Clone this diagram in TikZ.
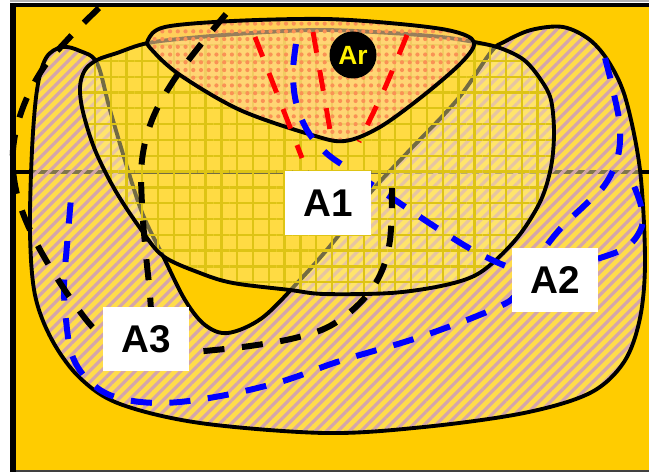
\documentclass[tikz,border=0pt]{standalone}
\usepackage{fontspec}
\setmainfont{Liberation Sans}
\usetikzlibrary{patterns.meta}

\definecolor{gold}{RGB}{255,204,0}
\definecolor{hatchbase}{RGB}{255,236,150}
\definecolor{hatchline}{RGB}{212,165,172}
\definecolor{gridbase}{RGB}{255,238,150}
\definecolor{gridline}{RGB}{222,196,20}
\definecolor{dotbase}{RGB}{255,210,150}
\definecolor{dotmark}{RGB}{250,145,85}

\begin{document}
\begin{tikzpicture}[
  x=0.02cm, y=-0.02cm,
  outline/.style={draw=black,line width=2.2pt,line join=round},
  hatchzone/.style={outline,preaction={fill=hatchbase,fill opacity=.5},
    pattern={Lines[angle=45,distance=4.6pt,line width=1.8pt]},pattern color=hatchline},
  gridzone/.style={outline,preaction={fill=gridbase,fill opacity=.45},
    pattern={Hatch[distance=9pt,line width=1.3pt]},pattern color=gridline},
  dotzone/.style={outline,preaction={fill=dotbase,fill opacity=.6},
    pattern={Dots[distance=4.4pt,radius=1.2pt]},pattern color=dotmark},
  rim/.style={line width=3.4pt,line cap=butt,dash pattern=on 12pt off 10pt},
  tag/.style={fill=white,inner sep=0pt,minimum width=1.74cm,minimum height=1.28cm,
    font=\fontsize{22}{24}\selectfont\bfseries},
  badge/.style={circle,fill=black,inner sep=0pt,minimum size=0.94cm,text=yellow,
    font=\fontsize{15}{16}\selectfont\bfseries}
]
  % frame
  \useasboundingbox (0,0) rectangle (649,472);
  \fill[white] (0,0) rectangle (649,472);
  \fill[black!30] (10,0) rectangle (649,2.5);
  \fill[gold] (13,5) rectangle (649,472);
  \draw[line width=1.2pt,black!75] (13,471.5) -- (649,471.5);
  \draw[line width=2.8pt] (10,5) -- (649,5);
  \draw[line width=3.4pt] (13,3) -- (13,472);
  \draw[line width=2.4pt] (13,172) -- (649,172);

  % regions
  \path[hatchzone] plot[smooth cycle,tension=0.55] coordinates {
    (97,63) (80,51) (62,47) (46,58) (37,90) (32,150) (30,233) (35,295) (52,340)
    (80,378) (120,404) (200,423) (325,433) (424,427) (524,413) (590,393) (624,362)
    (640,318) (645,260) (640,170) (626,100) (610,64) (590,40) (563,27) (531,30)
    (504,42) (491,52) (457,100) (407,153) (370,193) (335,240) (300,280) (262,318)
    (228,333) (205,325) (185,300) (163,256) (143,215) (127,167) (110,110)};
  \path[gridzone] plot[smooth cycle,tension=0.55] coordinates {
    (97,60) (117,53) (148,43) (200,37) (267,32) (324,30) (391,33) (441,37) (474,42)
    (500,48) (524,60) (541,80) (551,100) (554,133) (551,167) (541,200) (521,233)
    (497,259) (474,276) (441,286) (391,293) (324,294) (290,290) (233,283) (200,273)
    (163,256) (140,228) (115,190) (95,150) (83,112) (80,87) (85,70)};
  \path[dotzone] plot[smooth cycle,tension=0.55] coordinates {
    (148,40) (165,27) (233,21) (325,19) (400,24) (452,31) (474,42) (462,62)
    (424,95) (380,127) (345,141) (312,135) (240,110) (180,75) (152,50)};

  % dashed bounds
  \draw[rim,red,line width=2.8pt] (255,37) -- (302,158);
  \draw[rim,red,line width=2.8pt] plot[smooth] coordinates {(313,32) (324,95) (332,142)};
  \draw[rim,red,line width=2.8pt] plot[smooth] coordinates {(407,35) (384,90) (359,142)};

  \draw[rim,blue] plot[smooth,tension=0.6] coordinates {
    (296,44) (293,72) (296,102) (307,130) (325,152) (350,170) (395,200) (440,230)
    (480,254) (520,270) (560,268) (600,258) (628,246) (642,226) (641,206) (634,186)};
  \draw[rim,blue] plot[smooth,tension=0.6] coordinates {
    (605,58) (613,90) (620,128) (617,160) (604,186) (585,205) (560,229) (538,258)
    (518,292) (496,308) (420,337) (340,361) (280,382) (215,397) (160,403) (115,397)
    (88,380) (72,355) (66,320) (64,285) (67,245) (71,198)};

  \draw[rim] plot[smooth,tension=0.6] coordinates {
    (99,8) (70,37) (42,70) (22,110) (13,150) (16,190) (30,230) (55,275) (88,322) (112,345)};
  \draw[rim] plot[smooth,tension=0.6] coordinates {
    (226,14) (198,48) (172,83) (152,120) (142,160) (142,205) (146,255) (150,295) (152,330)};
  \draw[rim] plot[smooth,tension=0.6] coordinates {
    (165,355) (205,351) (250,346) (295,338) (330,326) (360,303) (380,275) (390,240) (392,188)};

  % labels
  \node[badge] (argon) at (353,55) {Ar};
  \node[tag] (aone) at (328,203) {A1};
  \node[tag] (atwo) at (555,280) {A2};
  \node[tag] (athree) at (146,339) {A3};
\end{tikzpicture}
\end{document}
